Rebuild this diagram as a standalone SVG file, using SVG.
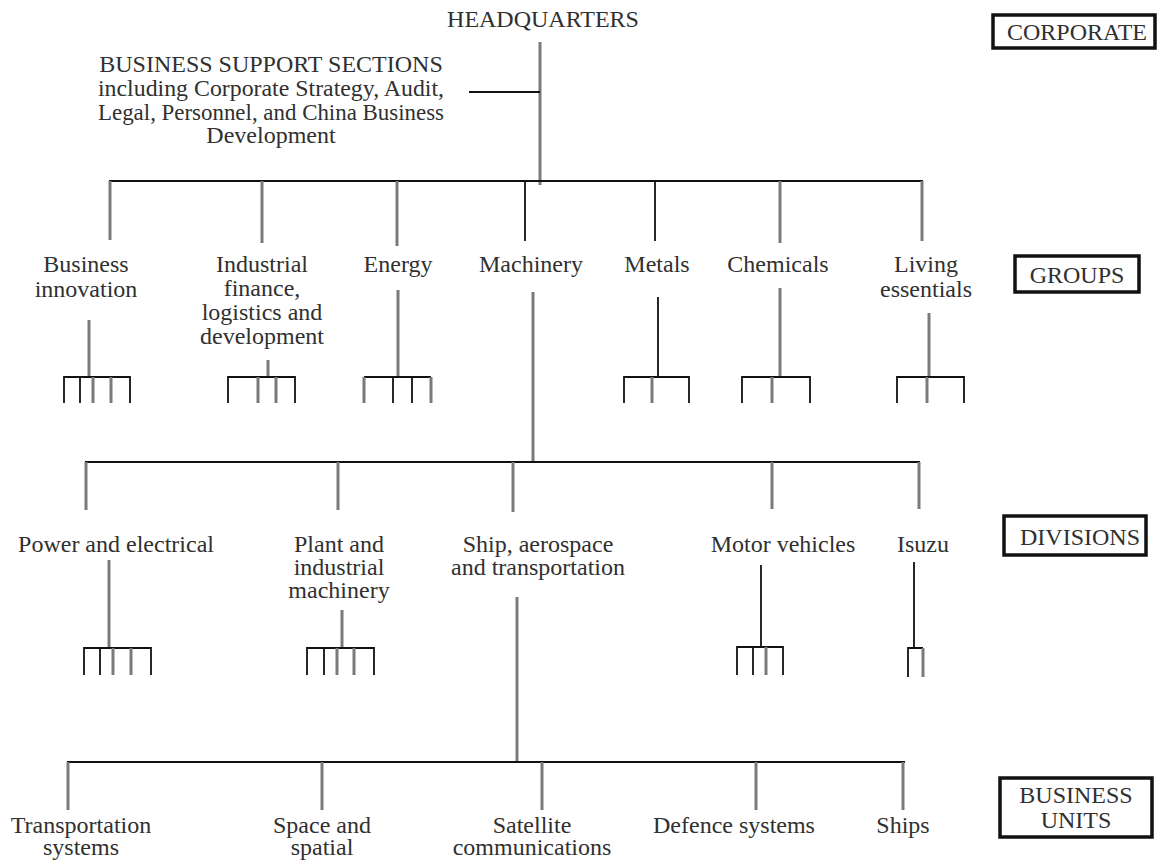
<svg xmlns="http://www.w3.org/2000/svg" width="1159" height="862" viewBox="0 0 1159 862">
<style>
text{font-family:"Liberation Serif","Times New Roman",serif;font-size:24px;fill:#303030;text-anchor:middle}
.k{stroke:#111;stroke-width:1.8;fill:none}
.g{stroke:#7a7a7a;stroke-width:3;fill:none}
.bar{stroke:#111;stroke-width:2;fill:none}
.box{fill:#fff;stroke:#111;stroke-width:3.5}
</style>
<rect width="1159" height="862" fill="#fff"/>
<g id="connectors">
<line class="g" x1="540" y1="42" x2="540" y2="185"/>
<line class="k" x1="469" y1="92" x2="540" y2="92"/>
<line class="bar" x1="109" y1="181" x2="923" y2="181"/>
<line class="g" x1="110" y1="181" x2="110" y2="240"/>
<line class="g" x1="262" y1="181" x2="262" y2="243"/>
<line class="g" x1="397" y1="181" x2="397" y2="246"/>
<line class="k" x1="525" y1="181" x2="525" y2="241"/>
<line class="k" x1="655" y1="181" x2="655" y2="241"/>
<line class="g" x1="780" y1="181" x2="780" y2="243"/>
<line class="g" x1="922" y1="181" x2="922" y2="241"/>
<line class="g" x1="89" y1="320" x2="89" y2="377"/>
<path class="k" d="M64 403V377H130V403M80 377V403"/>
<path class="g" d="M93 377V403M111 377V403"/>
<line class="g" x1="268" y1="360" x2="268" y2="377"/>
<path class="k" d="M228 403V377H295V403"/>
<path class="g" d="M258 377V403M276 377V403"/>
<line class="g" x1="398" y1="290" x2="398" y2="377"/>
<path class="k" d="M364 377H431M393 377V403M412 377V403"/>
<path class="g" d="M364 377V403M431 377V403"/>
<line class="k" x1="658" y1="297" x2="658" y2="377"/>
<path class="k" d="M624 403V377H689V403"/>
<path class="g" d="M652 377V403"/>
<line class="g" x1="780" y1="288" x2="780" y2="377"/>
<path class="k" d="M742 403V377H810V403"/>
<path class="g" d="M772 377V403"/>
<line class="g" x1="929" y1="313" x2="929" y2="377"/>
<path class="k" d="M897 403V377H964V403"/>
<path class="g" d="M927 377V403"/>
<line class="g" x1="533" y1="292" x2="533" y2="462"/>
<line class="bar" x1="85" y1="462" x2="920" y2="462"/>
<line class="g" x1="86" y1="462" x2="86" y2="510"/>
<line class="g" x1="338" y1="462" x2="338" y2="510"/>
<line class="g" x1="513" y1="462" x2="513" y2="512"/>
<line class="g" x1="772" y1="462" x2="772" y2="509"/>
<line class="g" x1="919" y1="462" x2="919" y2="509"/>
<line class="g" x1="109" y1="560" x2="109" y2="648"/>
<path class="k" d="M84 675V648H151V675M100 648V675"/>
<path class="g" d="M113 648V675M131 648V675"/>
<line class="g" x1="342" y1="610" x2="342" y2="648"/>
<path class="k" d="M307 675V648H374V675M324 648V675"/>
<path class="g" d="M337 648V675M354 648V675"/>
<line class="k" x1="761" y1="565" x2="761" y2="647"/>
<path class="k" d="M737 675V647H783V675M753 647V675"/>
<path class="g" d="M766 647V675"/>
<line class="k" x1="914" y1="562" x2="914" y2="648"/>
<path class="k" d="M908 677V648H923"/>
<path class="g" d="M923 648V677"/>
<line class="g" x1="517" y1="597" x2="517" y2="763"/>
<line class="bar" x1="67" y1="762" x2="905" y2="762"/>
<line class="g" x1="68" y1="762" x2="68" y2="810"/>
<line class="g" x1="322" y1="762" x2="322" y2="810"/>
<line class="g" x1="542" y1="762" x2="542" y2="810"/>
<line class="g" x1="756" y1="762" x2="756" y2="810"/>
<line class="g" x1="903" y1="762" x2="903" y2="810"/>
</g>
<g id="headquarters"><text x="543" y="27">HEADQUARTERS</text></g>
<g id="business-support"><text x="271" y="72">BUSINESS SUPPORT SECTIONS</text><text x="271" y="96" textLength="346" lengthAdjust="spacingAndGlyphs">including Corporate Strategy, Audit,</text><text x="271" y="120" textLength="346" lengthAdjust="spacingAndGlyphs">Legal, Personnel, and China Business</text><text x="271" y="143">Development</text></g>
<g id="business-innovation"><text x="86" y="272">Business</text><text x="86" y="297">innovation</text></g>
<g id="industrial"><text x="262" y="272">Industrial</text><text x="262" y="296">finance,</text><text x="262" y="320">logistics and</text><text x="262" y="344">development</text></g>
<g id="energy"><text x="398" y="272">Energy</text></g>
<g id="machinery"><text x="531" y="272">Machinery</text></g>
<g id="metals"><text x="657" y="272">Metals</text></g>
<g id="chemicals"><text x="778" y="272">Chemicals</text></g>
<g id="living"><text x="926" y="272">Living</text><text x="926" y="297">essentials</text></g>
<g id="power"><text x="116" y="552">Power and electrical</text></g>
<g id="plant"><text x="339" y="552">Plant and</text><text x="339" y="575">industrial</text><text x="339" y="598">machinery</text></g>
<g id="ship"><text x="538" y="552">Ship, aerospace</text><text x="538" y="575">and transportation</text></g>
<g id="motor"><text x="783" y="552">Motor vehicles</text></g>
<g id="isuzu"><text x="923" y="552">Isuzu</text></g>
<g id="transportation"><text x="81" y="833">Transportation</text><text x="81" y="855">systems</text></g>
<g id="space"><text x="322" y="833">Space and</text><text x="322" y="855">spatial</text></g>
<g id="satellite"><text x="532" y="833">Satellite</text><text x="532" y="855">communications</text></g>
<g id="defence"><text x="734" y="833">Defence systems</text></g>
<g id="ships"><text x="903" y="833">Ships</text></g>
<g id="level-corporate"><rect class="box" x="993" y="15" width="162" height="33"/><text x="1077" y="40">CORPORATE</text></g>
<g id="level-groups"><rect class="box" x="1015" y="256" width="124" height="36"/><text x="1077" y="283">GROUPS</text></g>
<g id="level-divisions"><rect class="box" x="1004" y="516" width="142" height="39"/><text x="1080" y="545">DIVISIONS</text></g>
<g id="level-business-units"><rect class="box" x="1000" y="778" width="152" height="59"/><text x="1076" y="803">BUSINESS</text><text x="1076" y="828">UNITS</text></g>
</svg>
